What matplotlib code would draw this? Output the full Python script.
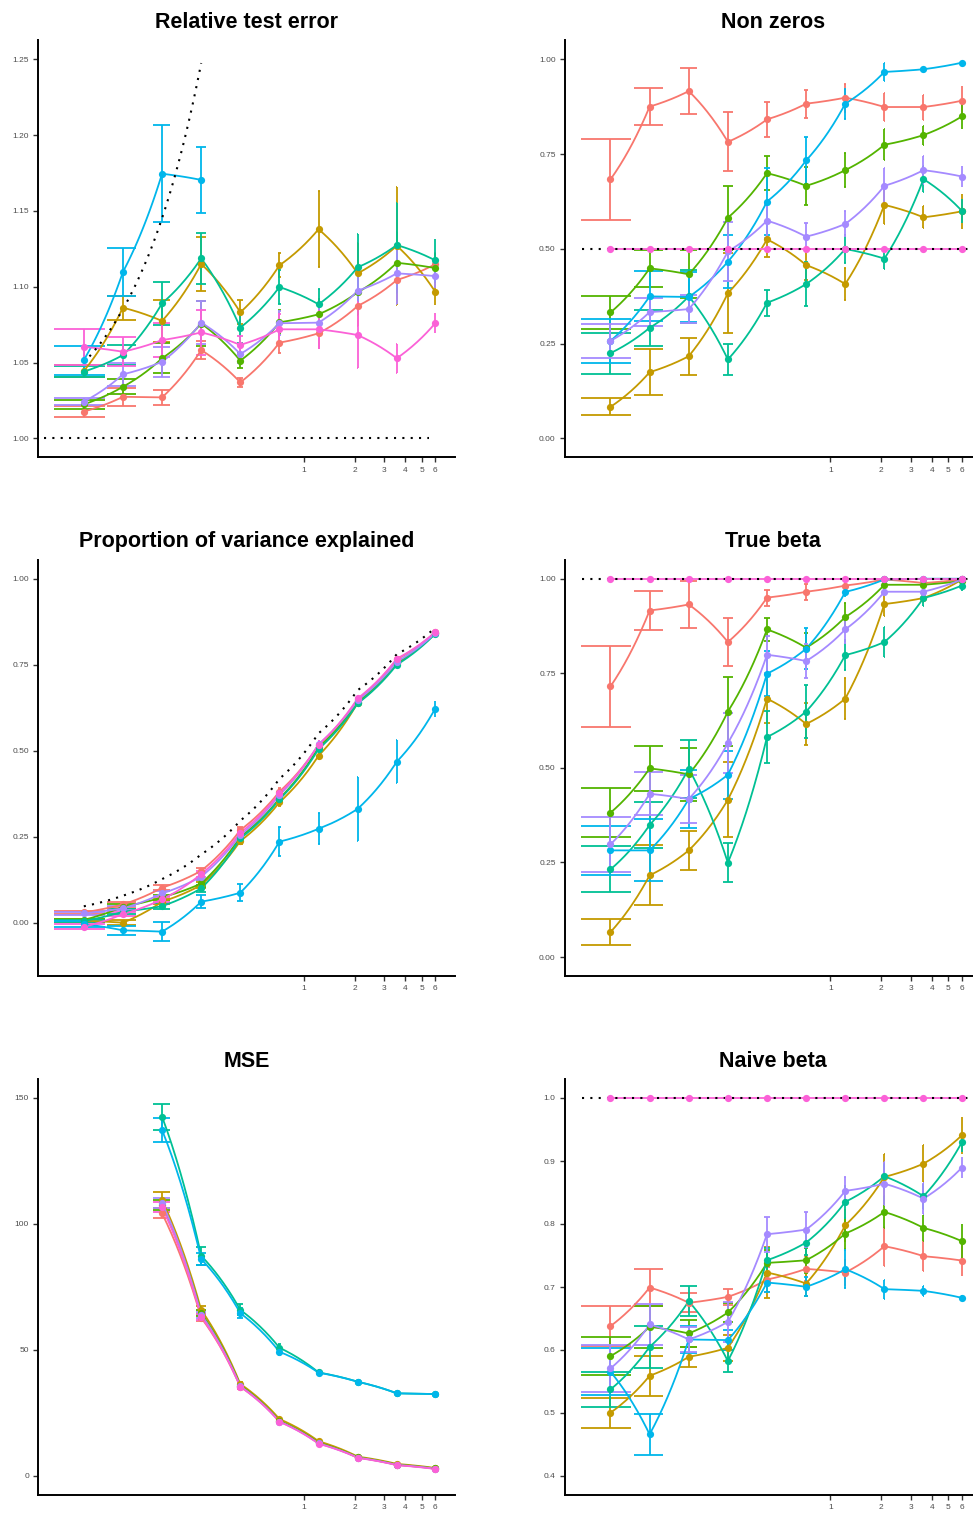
import numpy as np
import matplotlib
matplotlib.use("Agg")
import matplotlib.pyplot as plt
from matplotlib.path import Path

nan = np.nan

# Signal-to-noise ratios on the x axis
snr = [0.05, 0.0852, 0.1452, 0.2475, 0.4217, 0.7186, 1.2246, 2.0868, 3.5559, 6.0]
x_ticks = [1, 2, 3, 4, 5, 6]
x_tick_labels = ["1", "2", "3", "4", "5", "6"]

# ggplot-style hue palette, one colour per method
palette = ["#F8766D", "#C49A00", "#53B400", "#00C094", "#00B6EB", "#A58AFF", "#FB61D7"]

# ---- Relative test error ----
rte_mean = [
    [1.0176, 1.0274, 1.0270, 1.0582, 1.0369, 1.0631, 1.0693, 1.0873, 1.1044, 1.1148],
    [1.0444, 1.0862, 1.0774, 1.1150, 1.0831, 1.1141, 1.1379, 1.1088, 1.1270, 1.0967],
    [1.0224, 1.0340, 1.0528, 1.0757, 1.0512, 1.0765, 1.0818, 1.0963, 1.1158, 1.1123],
    [1.0440, 1.0549, 1.0890, 1.1187, 1.0730, 1.0998, 1.0884, 1.1128, 1.1275, 1.1174],
    [1.0516, 1.1097, 1.1745, 1.1704, nan, nan, nan, nan, nan, nan],
    [1.0242, 1.0422, 1.0505, 1.0763, 1.0556, 1.0759, 1.0763, 1.0974, 1.1088, 1.1070],
    [1.0604, 1.0571, 1.0648, 1.0699, 1.0616, 1.0719, 1.0719, 1.0681, 1.0528, 1.0759],
]
rte_se = [
    [0.0035, 0.006, 0.005, 0.006, 0.003, 0.007, 0.010, 0.013, 0.012, 0.008],
    [0.004, 0.008, 0.014, 0.018, 0.008, 0.008, 0.025, 0.020, 0.039, 0.009],
    [0.003, 0.005, 0.010, 0.015, 0.005, 0.008, 0.010, 0.015, 0.020, 0.010],
    [0.0035, 0.0066, 0.014, 0.017, 0.010, 0.011, 0.010, 0.022, 0.028, 0.014],
    [0.0095, 0.016, 0.032, 0.022, nan, nan, nan, nan, nan, nan],
    [0.0025, 0.0075, 0.010, 0.014, 0.006, 0.008, 0.009, 0.012, 0.020, 0.008],
    [0.012, 0.0095, 0.011, 0.015, 0.006, 0.010, 0.012, 0.022, 0.0095, 0.0066],
]
null_rte = [1.05, 1.0852, 1.1452, 1.2475]

# ---- Number of non zeros (fraction) ----
nz_mean = [
    [0.683, 0.875, 0.916, 0.782, 0.8414, 0.8828, 0.8987, 0.874, 0.874, 0.8907],
    [0.083, 0.1744, 0.2167, 0.383, 0.525, 0.457, 0.407, 0.6159, 0.583, 0.599],
    [0.332, 0.4485, 0.4326, 0.582, 0.6996, 0.666, 0.7075, 0.7744, 0.800, 0.8493],
    [0.2247, 0.2916, 0.3744, 0.208, 0.3577, 0.407, 0.4996, 0.474, 0.6837, 0.600],
    [0.257, 0.3744, 0.373, 0.466, 0.6247, 0.733, 0.8828, 0.9665, 0.9736, 0.991],
    [0.257, 0.333, 0.341, 0.493, 0.5744, 0.532, 0.5656, 0.666, 0.7075, 0.6907],
    [0.5, 0.5, 0.5, 0.5, 0.5, 0.5, 0.5, 0.5, 0.5, 0.5],
]
nz_se = [
    [0.106, 0.048, 0.060, 0.078, 0.046, 0.037, 0.037, 0.038, 0.033, 0.038],
    [0.0225, 0.061, 0.049, 0.106, 0.047, 0.039, 0.042, 0.050, 0.029, 0.046],
    [0.044, 0.048, 0.063, 0.084, 0.044, 0.050, 0.044, 0.041, 0.025, 0.033],
    [0.054, 0.047, 0.070, 0.040, 0.034, 0.057, 0.038, 0.028, 0.035, 0.031],
    [0.059, 0.066, 0.066, 0.070, 0.088, 0.062, 0.040, 0.023, 0.006, 0.004],
    [0.044, 0.036, 0.037, 0.078, 0.045, 0.037, 0.033, 0.048, 0.036, 0.028],
    [0, 0, 0, 0, 0, 0, 0, 0, 0, 0],
]
true_support = 0.5

# ---- Proportion of variance explained ----
pve_mean = [
    [0.030, 0.053, 0.1017, 0.151, 0.2694, 0.381, 0.5165, 0.649, 0.7655, 0.844],
    [0.006, 0.000, 0.061, 0.1095, 0.2374, 0.350, 0.4855, 0.6395, 0.754, 0.841],
    [0.008, 0.0465, 0.0736, 0.114, 0.250, 0.361, 0.510, 0.6425, 0.756, 0.841],
    [0.005, 0.032, 0.048, 0.100, 0.245, 0.3585, 0.505, 0.6376, 0.750, 0.840],
    [-0.004, -0.0223, -0.026, 0.061, 0.0872, 0.2355, 0.273, 0.331, 0.468, 0.622],
    [0.027, 0.0417, 0.085, 0.134, 0.255, 0.371, 0.519, 0.647, 0.7587, 0.842],
    [-0.012, 0.025, 0.068, 0.1415, 0.2616, 0.376, 0.518, 0.652, 0.7674, 0.845],
]
pve_se = [
    [0.004, 0.006, 0.007, 0.008, 0.008, 0.010, 0.010, 0.008, 0.007, 0.006],
    [0.004, 0.008, 0.008, 0.010, 0.010, 0.010, 0.010, 0.008, 0.007, 0.006],
    [0.004, 0.007, 0.008, 0.010, 0.010, 0.010, 0.010, 0.008, 0.007, 0.006],
    [0.004, 0.007, 0.008, 0.010, 0.010, 0.010, 0.010, 0.008, 0.007, 0.006],
    [0.008, 0.014, 0.028, 0.019, 0.025, 0.042, 0.045, 0.093, 0.063, 0.023],
    [0.004, 0.006, 0.008, 0.010, 0.010, 0.010, 0.010, 0.008, 0.007, 0.006],
    [0.007, 0.006, 0.008, 0.010, 0.010, 0.010, 0.010, 0.008, 0.007, 0.006],
]
pve_bound = [0.0476, 0.0785, 0.1268, 0.1984, 0.2966, 0.4181, 0.5505, 0.6760, 0.7805, 0.8571]

# ---- True beta ----
tb_mean = [
    [0.7154, 0.916, 0.932, 0.8326, 0.950, 0.9656, 0.982, 0.998, 0.9885, 0.998],
    [0.066, 0.216, 0.282, 0.4159, 0.683, 0.616, 0.683, 0.933, 0.949, 0.998],
    [0.3815, 0.4987, 0.4828, 0.649, 0.866, 0.8176, 0.8987, 0.984, 0.984, 0.994],
    [0.2317, 0.349, 0.4978, 0.2493, 0.5815, 0.649, 0.798, 0.8326, 0.949, 0.982],
    [0.282, 0.282, 0.4176, 0.482, 0.749, 0.815, 0.965, 0.998, 1.0, 1.0],
    [0.298, 0.4317, 0.4176, 0.5656, 0.799, 0.7824, 0.866, 0.9656, 0.9656, 0.998],
    [1.0, 1.0, 1.0, 1.0, 1.0, 1.0, 1.0, 1.0, 1.0, 1.0],
]
tb_se = [
    [0.106, 0.051, 0.061, 0.064, 0.021, 0.021, 0.010, 0.003, 0.005, 0.002],
    [0.034, 0.079, 0.052, 0.099, 0.064, 0.056, 0.055, 0.032, 0.010, 0.002],
    [0.065, 0.060, 0.069, 0.090, 0.030, 0.040, 0.036, 0.005, 0.005, 0.003],
    [0.061, 0.060, 0.077, 0.051, 0.068, 0.069, 0.039, 0.040, 0.020, 0.014],
    [0.064, 0.082, 0.077, 0.063, 0.060, 0.054, 0.010, 0.002, 0, 0],
    [0.072, 0.057, 0.063, 0.080, 0.049, 0.046, 0.037, 0.008, 0.008, 0.002],
    [0, 0, 0, 0, 0, 0, 0, 0, 0, 0],
]

# ---- MSE ----
mse_mean = [
    [nan, nan, 104.2, 62.8, 35.4, 21.7, 13.0, 7.3, 4.4, 2.9],
    [nan, nan, 109.5, 65.9, 36.5, 22.6, 13.8, 7.7, 4.8, 3.2],
    [nan, nan, 107.5, 64.6, 35.9, 21.9, 13.2, 7.4, 4.5, 3.0],
    [nan, nan, 142.6, 87.4, 65.9, 50.9, 41.1, 37.4, 32.8, 32.5],
    [nan, nan, 137.3, 86.1, 64.6, 49.3, 41.0, 37.4, 32.8, 32.5],
    [nan, nan, 108.3, 64.0, 35.6, 21.6, 12.9, 7.3, 4.4, 2.9],
    [nan, nan, 106.6, 63.2, 35.4, 21.5, 12.8, 7.2, 4.3, 2.8],
]
mse_se = [
    [nan, nan, 2.0, 1.2, 0.8, 0.5, 0.4, 0.3, 0.2, 0.1],
    [nan, nan, 3.0, 1.5, 0.9, 0.6, 0.4, 0.3, 0.2, 0.1],
    [nan, nan, 2.0, 1.2, 0.8, 0.5, 0.4, 0.3, 0.2, 0.1],
    [nan, nan, 5.2, 3.5, 2.2, 1.5, 0.9, 0.8, 0.6, 0.5],
    [nan, nan, 4.8, 2.5, 2.0, 1.4, 0.9, 0.8, 0.6, 0.5],
    [nan, nan, 2.0, 1.2, 0.8, 0.5, 0.4, 0.3, 0.2, 0.1],
    [nan, nan, 2.0, 1.2, 0.8, 0.5, 0.4, 0.3, 0.2, 0.1],
]

# ---- Naive beta ----
nb_mean = [
    [0.6379, 0.6992, 0.6749, 0.6844, 0.7119, 0.7288, 0.7230, 0.7648, 0.7489, 0.7420],
    [0.5004, 0.5591, 0.5892, 0.6035, 0.7230, 0.7055, 0.7980, 0.8747, 0.8958, 0.9408],
    [0.5903, 0.6368, 0.6263, 0.6596, 0.7383, 0.7425, 0.7848, 0.8192, 0.7938, 0.7727],
    [0.5374, 0.6050, 0.6775, 0.5824, 0.7425, 0.7706, 0.8351, 0.8758, 0.8440, 0.9297],
    [0.5655, 0.4661, 0.6167, 0.6157, 0.7071, 0.7003, 0.7283, 0.6966, 0.6939, 0.6828],
    [0.5707, 0.6405, 0.6167, 0.6448, 0.7838, 0.7912, 0.8525, 0.8641, 0.8403, 0.8895],
    [1.0, 1.0, 1.0, 1.0, 1.0, 1.0, 1.0, 1.0, 1.0, 1.0],
]
nb_se = [
    [0.032, 0.030, 0.015, 0.013, 0.020, 0.020, 0.020, 0.031, 0.024, 0.025],
    [0.024, 0.032, 0.016, 0.021, 0.040, 0.020, 0.025, 0.037, 0.029, 0.029],
    [0.030, 0.033, 0.021, 0.015, 0.020, 0.020, 0.025, 0.025, 0.020, 0.027],
    [0.028, 0.033, 0.024, 0.018, 0.020, 0.020, 0.025, 0.020, 0.020, 0.015],
    [0.037, 0.032, 0.021, 0.016, 0.015, 0.015, 0.030, 0.015, 0.008, 0.004],
    [0.038, 0.033, 0.020, 0.032, 0.028, 0.028, 0.022, 0.034, 0.024, 0.017],
    [0, 0, 0, 0, 0, 0, 0, 0, 0, 0],
]

# ---------------------------------------------------------------------------
plt.rcParams["font.family"] = ["Liberation Sans", "DejaVu Sans"]

W, H = 973, 1516
fig = plt.figure(figsize=(W / 100, H / 100), dpi=100)

LW = 1.3
CAP = 0.0165          # half width of the error-bar caps, in SNR units
XLIM = (0.0269, 7.86)
DOTS = (0, (1, 3))


def lin_path(x, y, steps=30):
    """Straight segments in data space, sampled so they bend on the log axis."""
    p = Path(np.column_stack([x, y])).interpolated(steps)
    return p.vertices[:, 0], p.vertices[:, 1]


def make_axes(left_px, top_px, w_px=416.7, h_px=417.0):
    return fig.add_axes([left_px / W, 1 - (top_px + h_px) / H, w_px / W, h_px / H])


def style(ax, ylim, yticks, ylabels, title):
    ax.set_xscale("log")
    ax.set_xlim(*XLIM)
    ax.set_ylim(*ylim)
    ax.set_xticks(x_ticks)
    ax.set_xticklabels(x_tick_labels)
    ax.xaxis.set_minor_locator(matplotlib.ticker.NullLocator())
    ax.set_yticks(yticks)
    ax.set_yticklabels(ylabels)
    for s in ("top", "right"):
        ax.spines[s].set_visible(False)
    for s in ("left", "bottom"):
        ax.spines[s].set_linewidth(1.4)
        ax.spines[s].set_color("black")
    ax.tick_params(axis="both", which="major", length=3.5, width=1.0,
                   color="#333333", labelsize=6, labelcolor="#4D4D4D", pad=3.2)
    ax.patch.set_visible(False)
    pos = ax.get_position()
    fig.text(pos.x0 + pos.width / 2, pos.y1 + 12.5 / H, title,
             ha="center", va="baseline", fontsize=15.5, fontweight="bold")


def draw_series(ax, means, ses):
    xs_all = np.array(snr)
    for color, m, s in zip(palette, means, ses):
        m = np.asarray(m, float)
        s = np.asarray(s, float)
        ok = ~np.isnan(m)
        x, m, s = xs_all[ok], m[ok], s[ok]
        has = s > 0
        lo, hi = m - s, m + s
        if has.any():
            ax.vlines(x[has], lo[has], hi[has], color=color, lw=LW, zorder=2)
            ax.hlines(np.r_[lo[has], hi[has]],
                      np.r_[x[has] - CAP, x[has] - CAP],
                      np.r_[x[has] + CAP, x[has] + CAP],
                      color=color, lw=LW, zorder=2)
        lx, ly = lin_path(x, m)
        ax.plot(lx, ly, color=color, lw=LW, zorder=3, solid_capstyle="butt")
        ax.plot(x, m, "o", color=color, ms=5.2, mec="none", zorder=5)


def dotted(ax, x, y):
    ax.plot(x, y, color="black", lw=1.5, ls=DOTS, zorder=4, dash_capstyle="butt")


LEFT, RIGHT = 38.3, 565.0
TOPS = [40.3, 559.8, 1079.1]

# Relative test error
ax = make_axes(LEFT, TOPS[0])
draw_series(ax, rte_mean, rte_se)
dotted(ax, *lin_path(snr[:4], null_rte))
dotted(ax, [0.0292, 5.5], [1.0, 1.0])
style(ax, (0.9875, 1.2625), [1.00, 1.05, 1.10, 1.15, 1.20, 1.25],
      ["1.00", "1.05", "1.10", "1.15", "1.20", "1.25"], "Relative test error")

# Non zeros
ax = make_axes(RIGHT, TOPS[0])
draw_series(ax, nz_mean, nz_se)
dotted(ax, [0.034, 7.86], [true_support, true_support])
style(ax, (-0.05, 1.05), [0, 0.25, 0.5, 0.75, 1.0],
      ["0.00", "0.25", "0.50", "0.75", "1.00"], "Non zeros")

# Proportion of variance explained
ax = make_axes(LEFT, TOPS[1], h_px=416.2)
draw_series(ax, pve_mean, pve_se)
dotted(ax, *lin_path(snr, pve_bound))
style(ax, (-0.155, 1.055), [0, 0.25, 0.5, 0.75, 1.0],
      ["0.00", "0.25", "0.50", "0.75", "1.00"], "Proportion of variance explained")

# True beta
ax = make_axes(RIGHT, TOPS[1], h_px=416.2)
draw_series(ax, tb_mean, tb_se)
dotted(ax, [0.034, 7.86], [1.0, 1.0])
style(ax, (-0.05, 1.05), [0, 0.25, 0.5, 0.75, 1.0],
      ["0.00", "0.25", "0.50", "0.75", "1.00"], "True beta")

# MSE
ax = make_axes(LEFT, TOPS[2], h_px=415.8)
draw_series(ax, mse_mean, mse_se)
style(ax, (-7.5, 157.5), [0, 50, 100, 150], ["0", "50", "100", "150"], "MSE")

# Naive beta
ax = make_axes(RIGHT, TOPS[2], h_px=415.8)
draw_series(ax, nb_mean, nb_se)
dotted(ax, [0.034, 7.86], [1.0, 1.0])
style(ax, (0.37, 1.03), [0.4, 0.5, 0.6, 0.7, 0.8, 0.9, 1.0],
      ["0.4", "0.5", "0.6", "0.7", "0.8", "0.9", "1.0"], "Naive beta")

fig.savefig("out.png", dpi=100)
